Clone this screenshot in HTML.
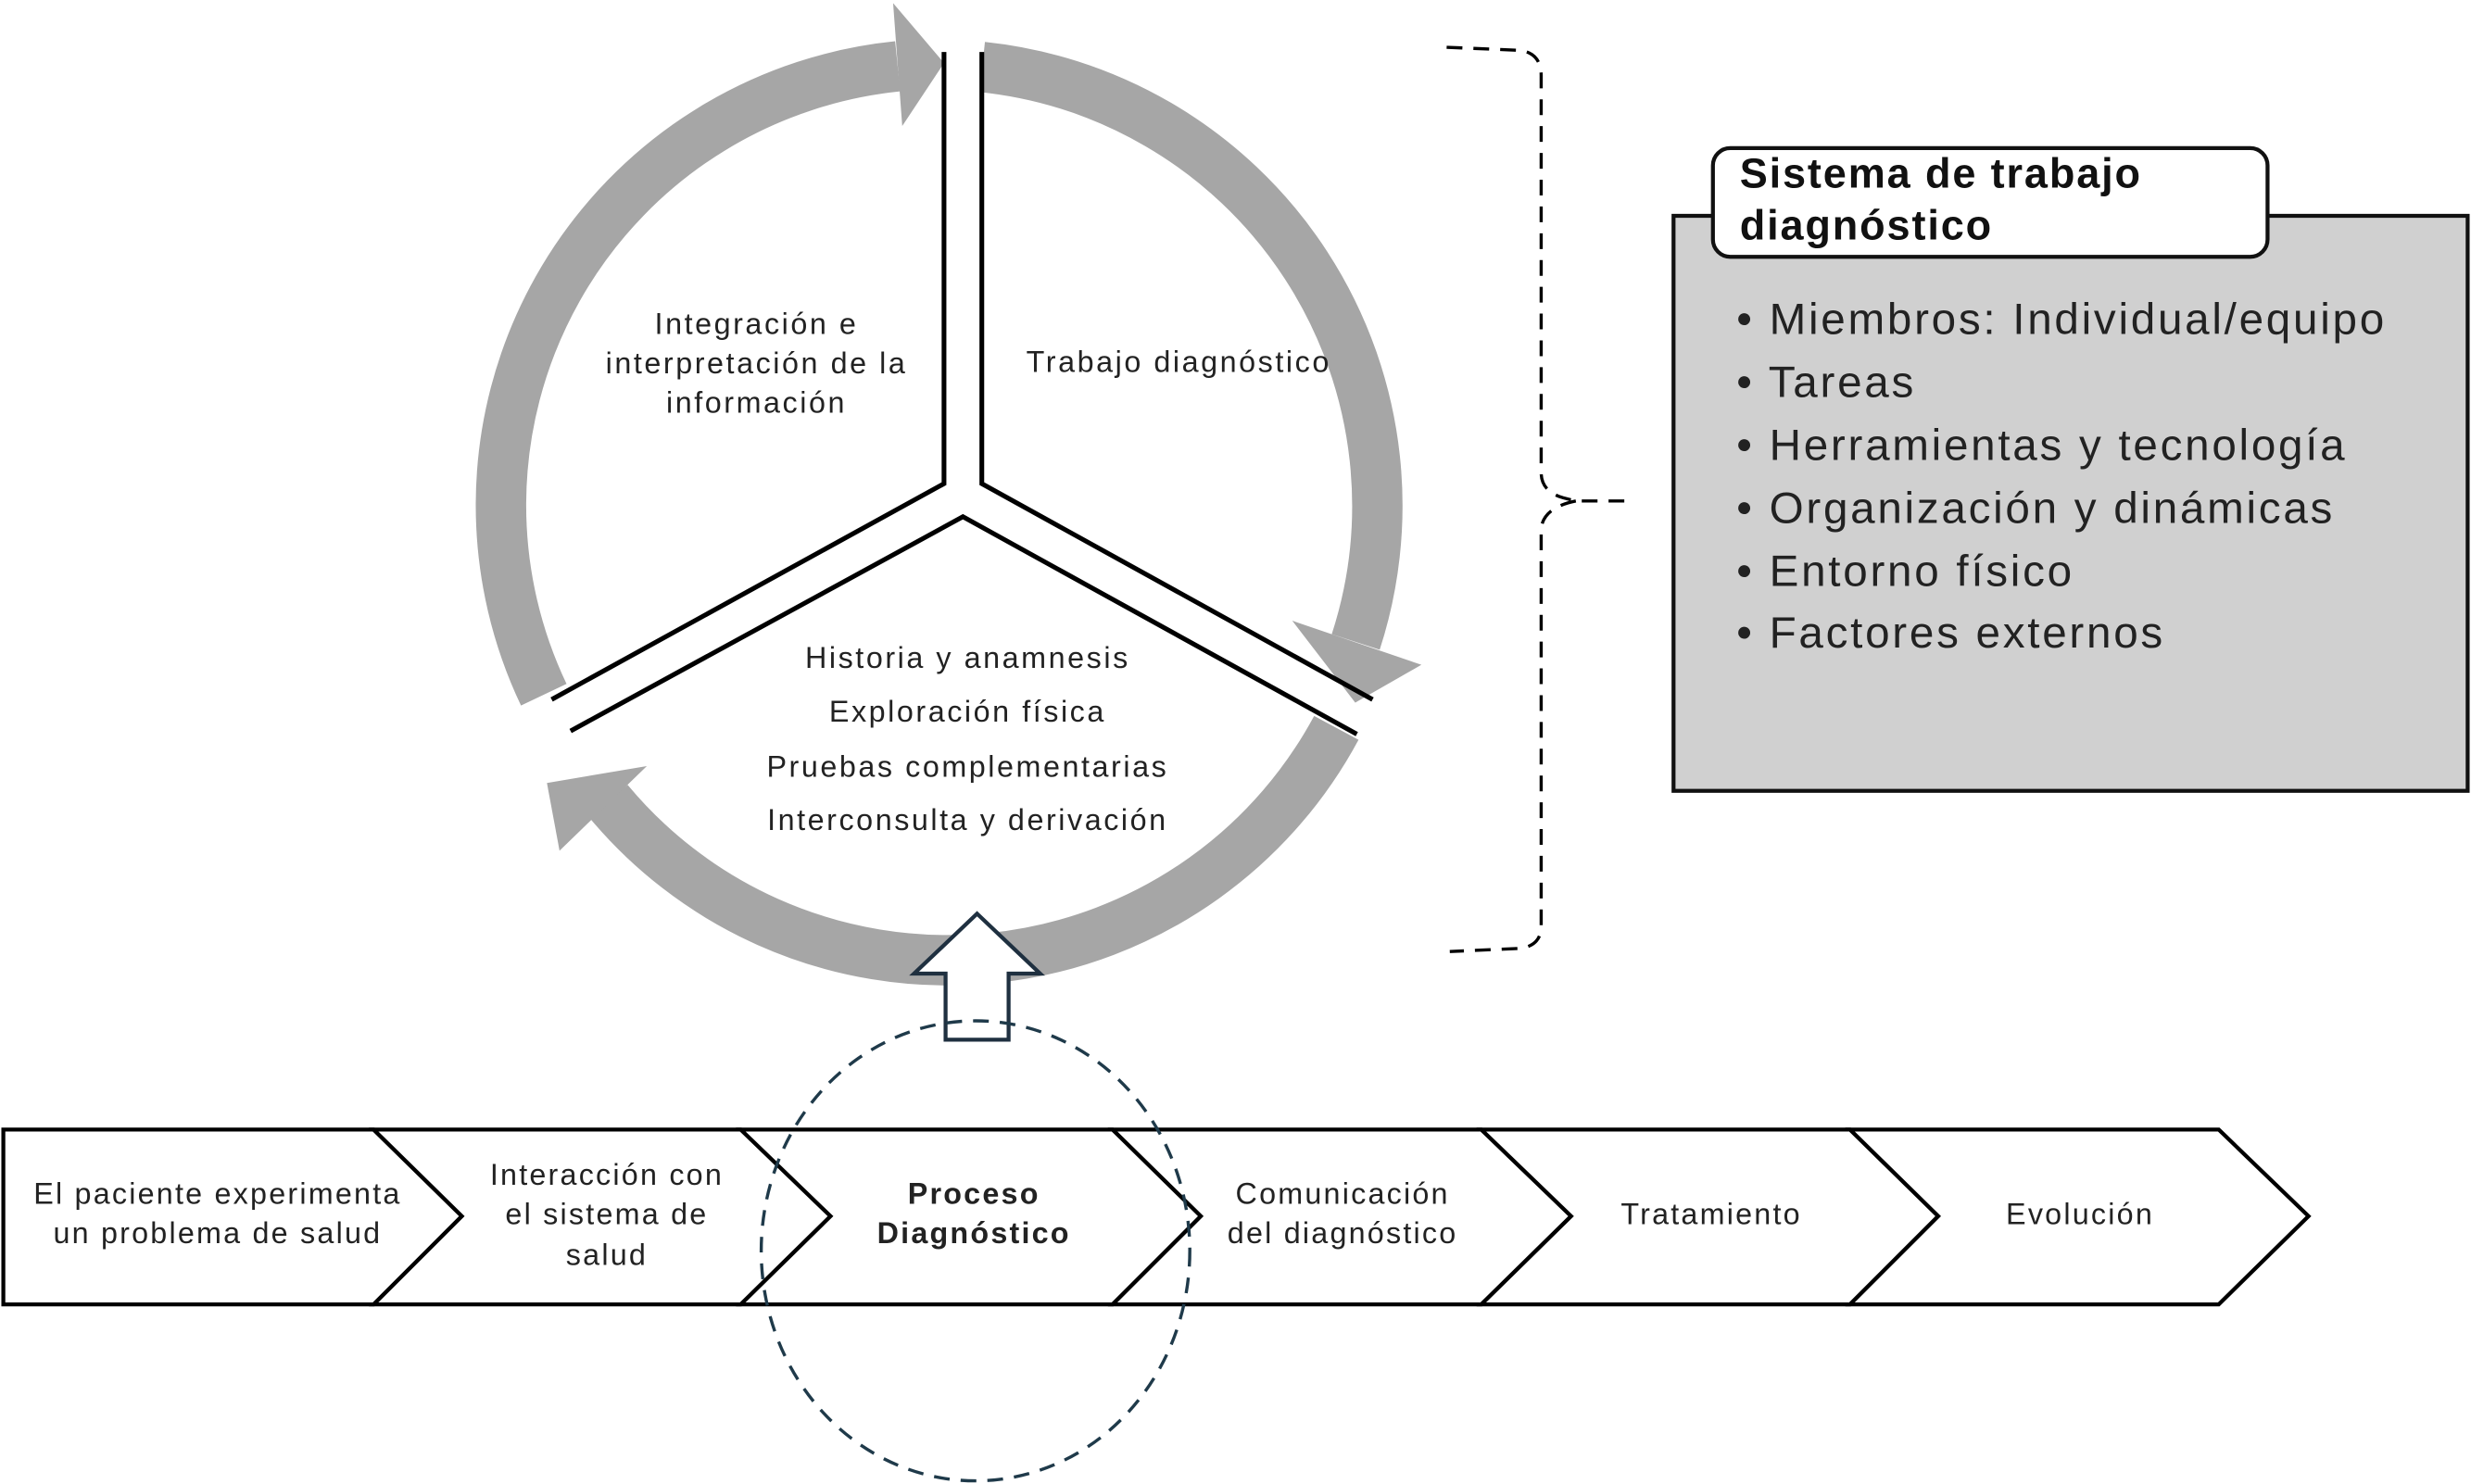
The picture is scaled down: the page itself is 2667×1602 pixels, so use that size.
<!DOCTYPE html>
<html><head><meta charset="utf-8"><style>
html,body{margin:0;padding:0;background:#fff;}
svg{display:block;}
text{font-family:"Liberation Sans",sans-serif;fill:#222;}
</style></head><body>
<svg width="2667" height="1602" viewBox="0 0 1568 942" xmlns="http://www.w3.org/2000/svg">
<rect width="1568" height="942" fill="#fff"/>
<!-- ring arcs -->
<g fill="none" stroke="#a6a6a6" stroke-width="32">
<path d="M345,441 A280,280 0 0 1 569.6,42.1"/>
<path d="M623.3,42.5 A280,280 0 0 1 860.3,407.5"/>
<path d="M848,462 A280,280 0 0 1 385.9,508.4"/>
</g>
<g fill="#a6a6a6">
<polygon points="566.7,2 572.5,80 599,40"/>
<polygon points="902,422 820,394 860,446"/>
<polygon points="355,540 410.4,486.3 347,497"/>
</g>
<!-- dividers -->
<g fill="none" stroke="#000" stroke-width="3">
<polyline points="599,33 599,307 350,444"/>
<polyline points="623,33 623,307 871,444"/>
<polyline points="362,464 611,328 861,466"/>
</g>
<!-- circle texts -->
<g font-size="19" letter-spacing="1.5" text-anchor="middle">
<text x="480" y="212">Integración e</text>
<text x="480" y="237">interpretación de la</text>
<text x="480" y="262">información</text>
<text x="748" y="236">Trabajo diagnóstico</text>
<text x="614" y="424">Historia y anamnesis</text>
<text x="614" y="458">Exploración física</text>
<text x="614" y="493">Pruebas complementarias</text>
<text x="614" y="527">Interconsulta y derivación</text>
</g>
<!-- brace -->
<path d="M918,30 L965,32 Q978,34 978,48 L978,300 Q978,312 992,316 L1000,318 L1035,318 M1000,318 Q980,322 978,335 L978,588 Q978,600 965,602 L920,604" fill="none" stroke="#000" stroke-width="2" stroke-dasharray="10,7"/>
<!-- box -->
<rect x="1062" y="137" width="504" height="365" fill="#d0d0d0" stroke="#111" stroke-width="2.5"/>
<rect x="1087" y="94" width="352" height="69" rx="11" fill="#fff" stroke="#111" stroke-width="2.5"/>
<g font-size="26.5" font-weight="bold" letter-spacing="1.1"><text x="1104" y="119" style="fill:#111">Sistema de trabajo</text><text x="1104" y="152" style="fill:#111">diagnóstico</text></g>
<g font-size="28" letter-spacing="1.6">
<text x="1102" y="212">• Miembros: Individual/equipo</text>
<text x="1102" y="252">• Tareas</text>
<text x="1102" y="292">• Herramientas y tecnología</text>
<text x="1102" y="332">• Organización y dinámicas</text>
<text x="1102" y="372">• Entorno físico</text>
<text x="1102" y="411">• Factores externos</text>
</g>
<!-- chevrons -->
<g fill="#fff" stroke="#000" stroke-width="2.5" stroke-linejoin="miter">
<polygon points="2,717 237,717 293,772 237,828 2,828"/>
<polygon points="237,717 470,717 527,772 470,828 237,828 293,772"/>
<polygon points="470,717 706,717 762,772 706,828 470,828 527,772"/>
<polygon points="706,717 940,717 997,772 940,828 706,828 762,772"/>
<polygon points="940,717 1174,717 1230,772 1174,828 940,828 997,772"/>
<polygon points="1174,717 1408,717 1465,772 1408,828 1174,828 1230,772"/>
</g>
<g font-size="19" letter-spacing="1.3" text-anchor="middle">
<text x="138" y="764">El paciente experimenta</text>
<text x="138" y="789">un problema de salud</text>
<text x="385" y="752">Interacción con</text>
<text x="385" y="777">el sistema de</text>
<text x="385" y="803">salud</text>
<text x="618" y="764" font-weight="bold">Proceso</text>
<text x="618" y="789" font-weight="bold">Diagnóstico</text>
<text x="852" y="764">Comunicación</text>
<text x="852" y="789">del diagnóstico</text>
<text x="1086" y="777">Tratamiento</text>
<text x="1320" y="777">Evolución</text>
</g>
<!-- up arrow -->
<polygon points="620,580 660,618 640,618 640,660 600,660 600,618 580,618" fill="#fff" stroke="#1f3040" stroke-width="2.5"/>
<!-- dashed ellipse -->
<ellipse cx="619" cy="794" rx="136" ry="146" fill="none" stroke="#1f3a4a" stroke-width="2" stroke-dasharray="10,7"/>
</svg>
</body></html>
